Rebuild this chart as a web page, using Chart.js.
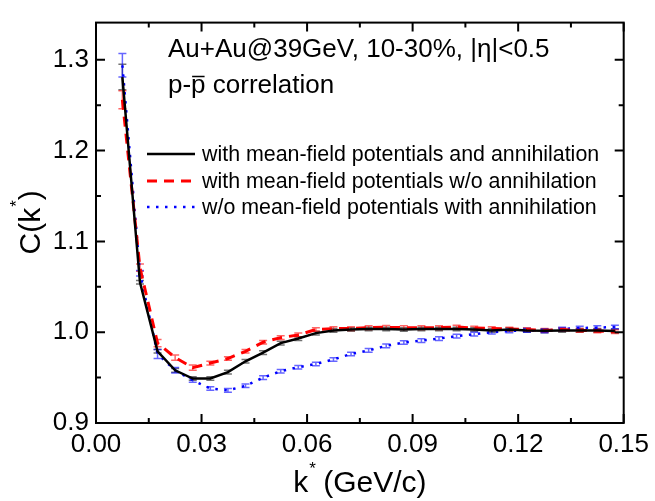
<!DOCTYPE html>
<html>
<head>
<meta charset="utf-8">
<script src="https://cdn.jsdelivr.net/npm/chart.js@4.4.0/dist/chart.umd.min.js"></script>
<style>
  html, body { margin: 0; padding: 0; background: #fff; }
  #wrap { width: 655px; height: 501px; }
</style>
</head>
<body>
<div id="wrap"><canvas id="grafica"></canvas></div>
<script>
// k* bin centres (GeV/c)
const kValues = [0.0075, 0.0125, 0.0175, 0.0225, 0.0275, 0.0325, 0.0375, 0.0425, 0.0475, 0.0525,
    0.0575, 0.0625, 0.0675, 0.0725, 0.0775, 0.0825, 0.0875, 0.0925, 0.0975, 0.1025,
    0.1075, 0.1125, 0.1175, 0.1225, 0.1275, 0.1325, 0.1375, 0.1425, 0.1475];

const conAniquilacion = [1.281, 1.055, 0.979, 0.958, 0.949, 0.949, 0.956, 0.968, 0.9775, 0.988,
    0.993, 0.999, 1.002, 1.003, 1.0035, 1.0035, 1.003, 1.0035, 1.0035, 1.0035,
    1.003, 1.002, 1.003, 1.002, 1.0015, 1.002, 1.002, 1.002, 1.0014];
const errAniquilacion = [0.014, 0.002, 0.002, 0.002, 0.002, 0.002, 0.002, 0.002, 0.002, 0.002,
    0.002, 0.002, 0.002, 0.002, 0.002, 0.002, 0.002, 0.002, 0.002, 0.002,
    0.002, 0.002, 0.002, 0.002, 0.002, 0.002, 0.002, 0.002, 0.002];

const sinAniquilacion = [1.256, 1.071, 0.988, 0.972, 0.961, 0.966, 0.971, 0.979, 0.989, 0.994,
    0.997, 1.003, 1.004, 1.004, 1.005, 1.0054, 1.005, 1.005, 1.005, 1.0057,
    1.0046, 1.004, 1.0035, 1.003, 1.002, 1.003, 1.002, 1.0014, 1.0007];
const errSinAniquilacion = [0.010, 0.004, 0.004, 0.003, 0.003, 0.002, 0.002, 0.002, 0.002, 0.002,
    0.002, 0.002, 0.002, 0.002, 0.002, 0.002, 0.002, 0.002, 0.002, 0.002,
    0.002, 0.002, 0.002, 0.002, 0.002, 0.002, 0.002, 0.002, 0.002];

const sinCampoMedio = [1.294, 1.065, 0.976, 0.958, 0.947, 0.938, 0.936, 0.941, 0.950, 0.957,
    0.9614, 0.965, 0.970, 0.976, 0.980, 0.985, 0.9886, 0.9907, 0.993, 0.9957,
    0.9979, 1.000, 1.0014, 1.002, 1.0015, 1.0035, 1.0046, 1.005, 1.0057];
const errSinCampoMedio = [0.013, 0.003, 0.005, 0.003, 0.002, 0.002, 0.002, 0.002, 0.002, 0.002,
    0.002, 0.002, 0.002, 0.002, 0.002, 0.002, 0.002, 0.002, 0.002, 0.002,
    0.002, 0.002, 0.002, 0.002, 0.002, 0.002, 0.002, 0.002, 0.002];

const etiquetas = [
    'with mean-field potentials and annihilation',
    'with mean-field potentials w/o annihilation',
    'w/o mean-field potentials with annihilation'
];

const xTicks = [0.00, 0.03, 0.06, 0.09, 0.12, 0.15];
const xMinorTicks = [0.015, 0.045, 0.075, 0.105, 0.135];
const yTicks = [0.9, 1.0, 1.1, 1.2, 1.3];
const yMinorTicks = [0.95, 1.05, 1.15, 1.25];

const FUENTE = '"Liberation Sans", Arial, sans-serif';

function puntos(valores) {
    return kValues.map((k, i) => ({ x: k, y: valores[i] }));
}

const series = [
    { label: etiquetas[0], data: puntos(conAniquilacion), err: errAniquilacion,
      borderColor: '#000000', barColor: 'rgba(0,0,0,0.55)', borderWidth: 2.5, borderDash: [] },
    { label: etiquetas[1], data: puntos(sinAniquilacion), err: errSinAniquilacion,
      borderColor: '#ff0000', barColor: 'rgba(255,0,0,0.6)', borderWidth: 3, borderDash: [10, 7] },
    { label: etiquetas[2], data: puntos(sinCampoMedio), err: errSinCampoMedio,
      borderColor: '#0000ff', barColor: 'rgba(0,0,255,0.6)', borderWidth: 2.5, borderDash: [2.5, 6.5] }
];

// error bars, frame with inward ticks, legend and annotation text
const marcoPlugin = {
    id: 'marco',
    beforeDatasetsDraw(chart) {
        const ctx = chart.ctx;
        const xs = chart.scales.x, ys = chart.scales.y;
        ctx.save();
        ctx.lineWidth = 1.5;
        series.forEach(s => {
            ctx.strokeStyle = s.barColor;
            s.data.forEach((p, i) => {
                const px = xs.getPixelForValue(p.x);
                const top = ys.getPixelForValue(p.y + s.err[i]);
                const bot = ys.getPixelForValue(p.y - s.err[i]);
                ctx.beginPath();
                ctx.moveTo(px, top); ctx.lineTo(px, bot);
                ctx.moveTo(px - 4, top); ctx.lineTo(px + 4, top);
                ctx.moveTo(px - 4, bot); ctx.lineTo(px + 4, bot);
                ctx.stroke();
            });
        });
        ctx.restore();
    },
    afterDraw(chart) {
        const ctx = chart.ctx;
        const a = chart.chartArea;
        const xs = chart.scales.x, ys = chart.scales.y;
        ctx.save();
        ctx.strokeStyle = '#000';
        ctx.lineWidth = 2;
        ctx.strokeRect(a.left, a.top, a.right - a.left, a.bottom - a.top);

        ctx.beginPath();
        const tickX = (v, len) => {
            const px = xs.getPixelForValue(v);
            ctx.moveTo(px, a.bottom); ctx.lineTo(px, a.bottom - len);
            ctx.moveTo(px, a.top); ctx.lineTo(px, a.top + len);
        };
        const tickY = (v, len) => {
            const py = ys.getPixelForValue(v);
            ctx.moveTo(a.left, py); ctx.lineTo(a.left + len, py);
            ctx.moveTo(a.right, py); ctx.lineTo(a.right - len, py);
        };
        xTicks.forEach(v => tickX(v, 9));
        xMinorTicks.forEach(v => tickX(v, 5));
        yTicks.forEach(v => tickY(v, 9));
        yMinorTicks.forEach(v => tickY(v, 5));
        ctx.stroke();

        // legend
        ctx.font = '21.4px ' + FUENTE;
        ctx.textBaseline = 'middle';
        ctx.fillStyle = '#000';
        const filas = [154, 181, 207];
        series.forEach((s, i) => {
            ctx.beginPath();
            ctx.strokeStyle = s.borderColor;
            ctx.lineWidth = s.borderWidth;
            ctx.setLineDash(s.borderDash);
            ctx.moveTo(147, filas[i]);
            ctx.lineTo(195, filas[i]);
            ctx.stroke();
            ctx.setLineDash([]);
            ctx.fillText(s.label, 202, filas[i] + 1);
        });

        // annotation
        ctx.textBaseline = 'alphabetic';
        ctx.font = '26px ' + FUENTE;
        ctx.fillText('Au+Au@39GeV, 10-30%, |\u03b7|<0.5', 168, 57);
        const linea2 = 'p-p correlation';
        ctx.fillText(linea2, 168, 93);
        const w0 = ctx.measureText('p-').width;
        const wp = ctx.measureText('p').width;
        ctx.beginPath();
        ctx.strokeStyle = '#000';
        ctx.lineWidth = 1.5;
        ctx.moveTo(168 + w0 + 1, 76.5);
        ctx.lineTo(168 + w0 + wp - 1, 76.5);
        ctx.stroke();

        // axis titles
        const grande = '30px ' + FUENTE, chica = '17px ' + FUENTE;
        ctx.font = grande;
        const wk = ctx.measureText('k').width;
        ctx.font = chica;
        const ws = ctx.measureText('*').width;
        ctx.font = grande;
        const wr = ctx.measureText(' (GeV/c)').width;
        let x0 = (a.left + a.right) / 2 - (wk + ws + wr) / 2;
        ctx.fillText('k', x0, 492);
        ctx.font = chica;
        ctx.fillText('*', x0 + wk + 1, 474);
        ctx.font = grande;
        ctx.fillText(' (GeV/c)', x0 + wk + ws, 492);

        ctx.translate(40, (a.top + a.bottom) / 2);
        ctx.rotate(-Math.PI / 2);
        const wc = ctx.measureText('C(k').width;
        ctx.font = chica;
        const ws2 = ctx.measureText('*').width;
        ctx.font = grande;
        const wp2 = ctx.measureText(')').width;
        x0 = -(wc + ws2 + wp2) / 2;
        ctx.fillText('C(k', x0, 0);
        ctx.font = chica;
        ctx.fillText('*', x0 + wc + 1, -18);
        ctx.font = grande;
        ctx.fillText(')', x0 + wc + ws2 + 1, 0);
        ctx.restore();
    }
};

const grafica = new Chart(document.getElementById('grafica'), {
    type: 'line',
    data: {
        datasets: series.map(s => ({
            label: s.label,
            data: s.data,
            borderColor: s.borderColor,
            backgroundColor: s.borderColor,
            borderWidth: s.borderWidth,
            borderDash: s.borderDash,
            pointRadius: 0,
            tension: 0,
            fill: false
        }))
    },
    options: {
        responsive: true,
        maintainAspectRatio: false,
        animation: false,
        layout: { padding: { left: 0, right: 23, top: 12, bottom: 0 } },
        plugins: { legend: { display: false }, tooltip: { enabled: false } },
        scales: {
            x: {
                type: 'linear',
                min: 0,
                max: 0.15,
                afterBuildTicks: s => { s.ticks = xTicks.map(v => ({ value: v })); },
                afterFit: s => { s.height = 78; },
                grid: { display: false, drawTicks: false },
                border: { display: false },
                ticks: {
                    color: '#000',
                    padding: 6,
                    maxRotation: 0,
                    font: { family: FUENTE, size: 26 },
                    callback: v => v.toFixed(2)
                }
            },
            y: {
                type: 'linear',
                min: 0.9,
                max: 1.341,
                afterBuildTicks: s => { s.ticks = yTicks.map(v => ({ value: v })); },
                afterFit: s => { s.width = 96; },
                grid: { display: false, drawTicks: false },
                border: { display: false },
                ticks: {
                    color: '#000',
                    padding: 7,
                    font: { family: FUENTE, size: 26 },
                    callback: v => v.toFixed(1)
                }
            }
        }
    },
    plugins: [marcoPlugin]
});
</script>
</body>
</html>
